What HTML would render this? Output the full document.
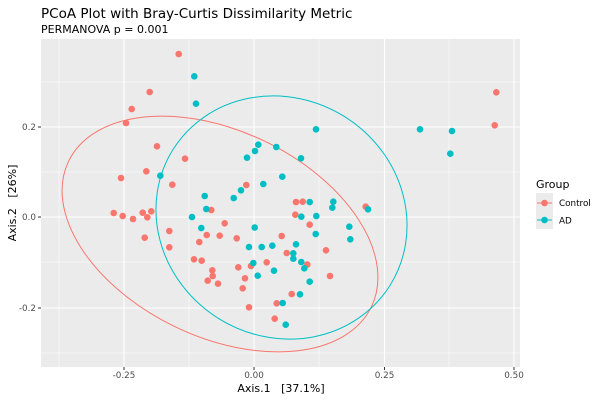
<!DOCTYPE html>
<html><head><meta charset="utf-8"><style>body{margin:0;background:#fff}svg{display:block}text{font-family:"DejaVu Sans","Liberation Sans",sans-serif}</style></head>
<body>
<svg width="600" height="400" viewBox="0 0 600 400" xmlns="http://www.w3.org/2000/svg">
<rect width="600" height="400" fill="#fff"/>
<text x="41" y="18" font-size="13.5" fill="#000">PCoA Plot with Bray-Curtis Dissimilarity Metric</text>
<text x="41" y="33" font-size="11" fill="#000">PERMANOVA p = 0.001</text>
<rect x="41" y="39" width="479" height="328" fill="#ebebeb"/>
<g stroke="#fff" stroke-width="0.55">
<line x1="59" y1="39" x2="59" y2="367"/><line x1="189" y1="39" x2="189" y2="367"/><line x1="319" y1="39" x2="319" y2="367"/><line x1="449" y1="39" x2="449" y2="367"/>
<line x1="41" y1="82" x2="520" y2="82"/><line x1="41" y1="172" x2="520" y2="172"/><line x1="41" y1="262" x2="520" y2="262"/><line x1="41" y1="353" x2="520" y2="353"/>
</g>
<g stroke="#fff" stroke-width="1.1">
<line x1="124" y1="39" x2="124" y2="367"/><line x1="254" y1="39" x2="254" y2="367"/><line x1="384.5" y1="39" x2="384.5" y2="367"/><line x1="514" y1="39" x2="514" y2="367"/>
<line x1="41" y1="127" x2="520" y2="127"/><line x1="41" y1="217" x2="520" y2="217"/><line x1="41" y1="308" x2="520" y2="308"/>
</g>
<ellipse cx="220" cy="234" rx="168" ry="103" transform="rotate(25.6 220 234)" fill="none" stroke="#F8766D" stroke-width="1"/>
<ellipse cx="281.5" cy="217.5" rx="128" ry="119" transform="rotate(32 281.5 217.5)" fill="none" stroke="#00BFC4" stroke-width="1"/>
<g fill="#F8766D" id="r"></g>
<g fill="#00BFC4" id="c"></g>
<g fill="#4d4d4d" font-size="8.8" text-anchor="middle">
<text x="124" y="378">-0.25</text><text x="254" y="378">0.00</text><text x="384.5" y="378">0.25</text><text x="514" y="378">0.50</text>
</g>
<g fill="#4d4d4d" font-size="8.8" text-anchor="end">
<text x="36" y="130">0.2</text><text x="36" y="220">0.0</text><text x="36" y="311">-0.2</text>
</g>
<g stroke="#333" stroke-width="1">
<line x1="124" y1="367" x2="124" y2="370"/><line x1="254" y1="367" x2="254" y2="370"/><line x1="384.5" y1="367" x2="384.5" y2="370"/><line x1="514" y1="367" x2="514" y2="370"/>
<line x1="38" y1="127" x2="41" y2="127"/><line x1="38" y1="217" x2="41" y2="217"/><line x1="38" y1="308" x2="41" y2="308"/>
</g>
<text x="281" y="392" font-size="11" text-anchor="middle" xml:space="preserve">Axis.1 &#160; [37.1%]</text>
<text transform="translate(16 203) rotate(-90)" font-size="11" text-anchor="middle" xml:space="preserve">Axis.2 &#160; [26%]</text>
<text x="536" y="188" font-size="11">Group</text>
<rect x="536" y="193" width="17" height="36" fill="#ebebeb"/>
<line x1="537" y1="203" x2="552" y2="203" stroke="#F8766D" stroke-width="1"/><circle cx="544.5" cy="203" r="3.3" fill="#F8766D"/>
<line x1="537" y1="220" x2="552" y2="220" stroke="#00BFC4" stroke-width="1"/><circle cx="544.5" cy="220" r="3.3" fill="#00BFC4"/>
<text x="559" y="206" font-size="8.8">Control</text>
<text x="559" y="223.5" font-size="8.8">AD</text>
<script>
var R=[[178.7,54],[149.7,92],[131.7,109],[126,123],[157,146.3],[185,158.7],[146.3,171.3],[121,178],[172.3,184.7],[246.3,185],[296,202],[302.7,201.7],[295.3,214.7],[309.7,224.7],[365.7,206.7],[496.3,92.3],[494.7,125.3],[113.7,213],[122.7,216],[133,219],[142.7,212.7],[147.3,217.3],[151.3,211.3],[144.7,237.7],[169.3,231],[169.3,247.3],[211.3,210],[224.7,223.3],[206.7,235],[199.3,242],[219.7,235.7],[236.7,238.3],[281.7,236],[194,259.3],[201.7,260.7],[212.3,270.3],[212.7,276],[207.7,280.7],[218,283.7],[238.3,267.3],[251,266],[266.7,262.3],[245,278.3],[242.7,288.3],[249,307.3],[276.7,303.3],[274.7,318.7],[286.7,253],[291.7,294],[326,250.3],[307.3,264.5],[330,276]];
var C=[[194.3,76.3],[196,103.7],[160.3,175.7],[204.7,196],[258.3,144.7],[255,151],[247,157.7],[276.3,147],[282.3,176.7],[263.3,184],[241,190.3],[233.7,198],[316,129.3],[420,129.3],[452,131],[450.3,153.7],[301,158.3],[309.7,202],[333.3,201.7],[332.3,207.7],[368,209.3],[301.3,216.7],[316.3,216],[254.7,227.5],[349.3,226.7],[192,217],[206.3,209],[201.3,228],[249,247],[261.7,247],[272.3,245.7],[296,244.3],[293.3,253.3],[293.3,258.7],[253.3,263],[257.7,275.7],[274,270.7],[282.7,303],[285.7,324.7],[300,294.3],[315.7,234],[350.3,239.3],[301.3,262],[304.3,268.3],[309.7,281.7]];
function add(id,a){var g=document.getElementById(id);a.forEach(function(p){var c=document.createElementNS("http://www.w3.org/2000/svg","circle");c.setAttribute("cx",p[0]);c.setAttribute("cy",p[1]);c.setAttribute("r",3.3);g.appendChild(c);});}
add("r",R);add("c",C);
</script>
</svg>
</body></html>
